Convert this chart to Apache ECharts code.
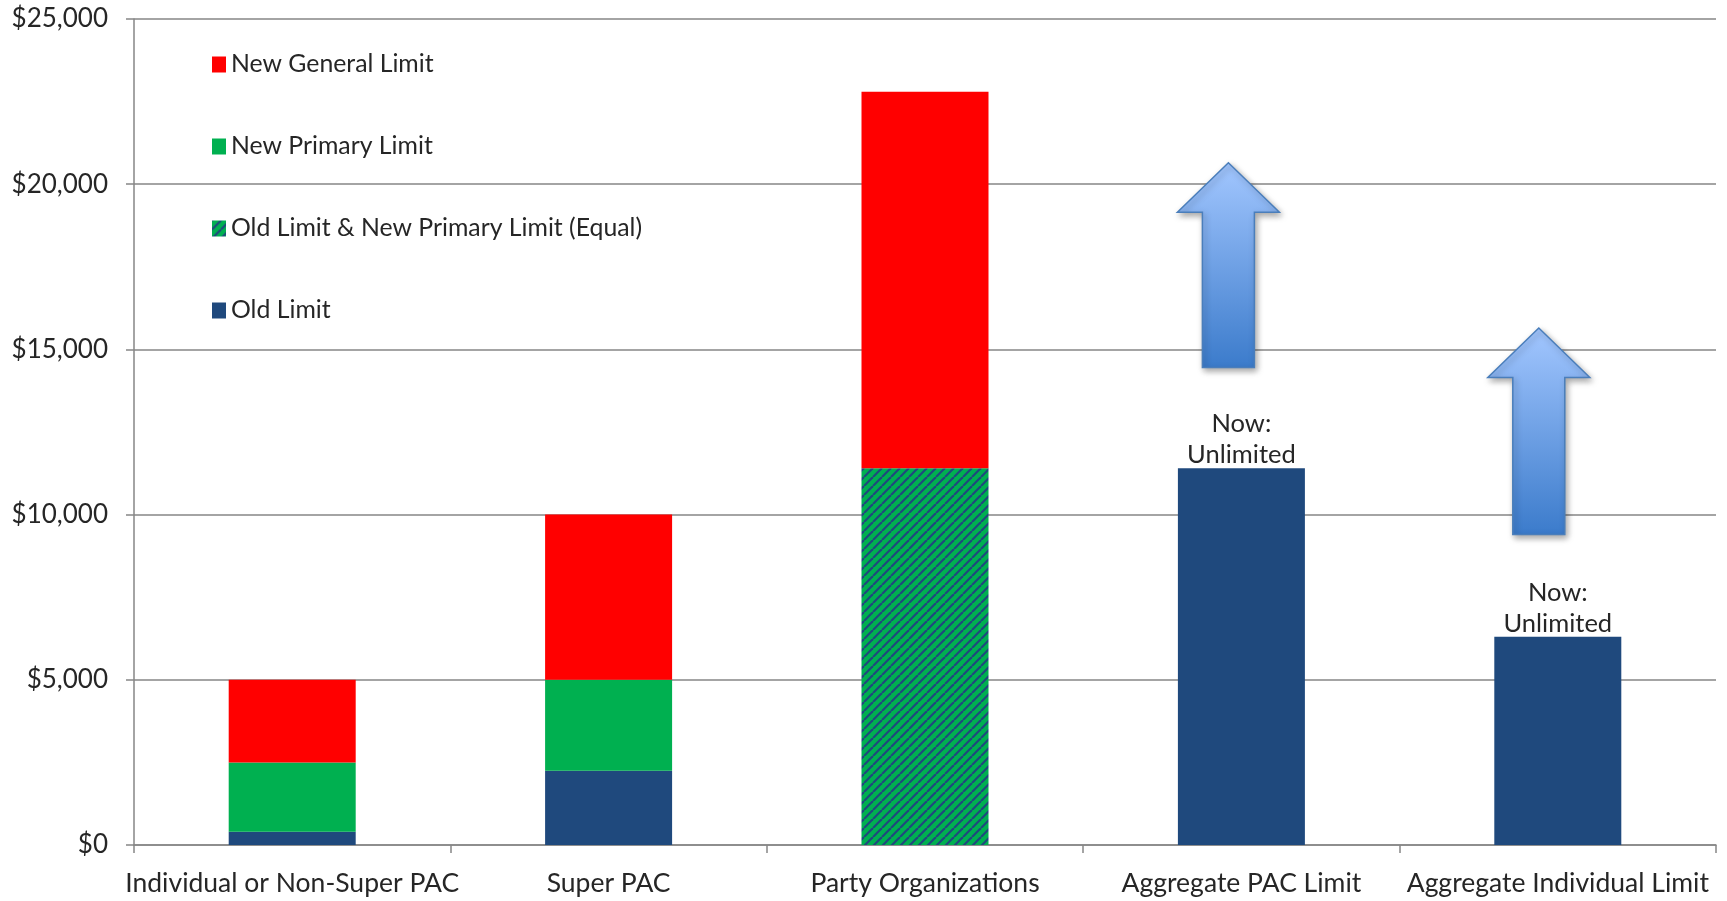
<!DOCTYPE html>
<html>
<head>
<meta charset="utf-8">
<script src="https://cdn.jsdelivr.net/npm/echarts@6/dist/echarts.min.js"></script>
<style>html,body{margin:0;padding:0;background:#fff}#main{width:1727px;height:901px}</style>
</head>
<body>
<div id="main"></div>
<script>
var categories = ['Individual or Non-Super PAC', 'Super PAC', 'Party Organizations', 'Aggregate PAC Limit', 'Aggregate Individual Limit'];
var oldLimit = [400, 2250, 0, 11400, 6300];
var oldEqualPrimary = [0, 0, 11400, 0, 0];
var newPrimary = [2100, 2750, 0, 0, 0];   // part above the old limit
var newGeneral = [2500, 5000, 11400, 0, 0]; // part above the primary limit
var barNotes = ['', '', '', 'Now:\nUnlimited', 'Now:\nUnlimited'];
// arrow: category, bottom, head base, tip
var arrows = [[3, 14450, 19150, 20650], [4, 9400, 14150, 15650]];
var yTicks = [0, 5000, 10000, 15000, 20000, 25000];

var FONT = 'Lato';
var main = echarts.init(document.getElementById('main'));

// green with navy diagonal stripes
function hatch() {
	var c = document.createElement('canvas');
	c.width = 9;
	c.height = 9;
	var ctx = c.getContext('2d');
	ctx.fillStyle = '#00B050';
	ctx.fillRect(0, 0, 9, 9);
	ctx.strokeStyle = '#1F497D';
	ctx.lineWidth = 2.2;
	for (var k = -1; k <= 1; k++) {
		ctx.beginPath();
		ctx.moveTo(k * 9, 9);
		ctx.lineTo(k * 9 + 9, 0);
		ctx.stroke();
	}
	return c;
}

var arrowShift = [-13, -19];
function renderArrow(params, api) {
	var base = api.coord([api.value(0), api.value(1)]);
	var neck = api.coord([api.value(0), api.value(2)]);
	var tip = api.coord([api.value(0), api.value(3)]);
	var cx = base[0] + arrowShift[params.dataIndex];
	var sw = 26, hw = 51;
	return {
		type: 'polygon',
		shape: {
			points: [[cx - sw, base[1]], [cx - sw, neck[1]], [cx - hw, neck[1]], [cx, tip[1]],
				[cx + hw, neck[1]], [cx + sw, neck[1]], [cx + sw, base[1]]]
		},
		style: {
			fill: new echarts.graphic.LinearGradient(0, 0, 0, 1, [
				{ offset: 0, color: '#A3C7FF' },
				{ offset: 1, color: '#3B7BCB' }
			]),
			stroke: '#4A7EBB',
			lineWidth: 1.5,
			shadowBlur: 6,
			shadowOffsetX: 2,
			shadowOffsetY: 3,
			shadowColor: 'rgba(0,0,0,0.35)'
		}
	};
}

var option = {
	animation: false,
	grid: { left: 134, right: 11, top: 19, bottom: 56 },
	legend: {
		orient: 'vertical',
		left: 207,
		top: 47,
		icon: 'rect',
		itemWidth: 14,
		itemHeight: 16,
		itemGap: 57,
		data: ['New General Limit', 'New Primary Limit', 'Old Limit & New Primary Limit (Equal)', 'Old Limit'],
		textStyle: { fontFamily: FONT, fontSize: 24.8, color: '#262626', lineHeight: 16 }
	},
	xAxis: {
		type: 'category',
		data: categories,
		axisLine: { lineStyle: { color: '#868686', width: 1.5 } },
		axisTick: { show: true, length: 8, lineStyle: { color: '#868686', width: 1.5 } },
		axisLabel: { fontFamily: FONT, fontSize: 26.5, color: '#262626', margin: 25, interval: 0 }
	},
	yAxis: {
		type: 'value',
		min: yTicks[0],
		max: yTicks[yTicks.length - 1],
		interval: yTicks[1] - yTicks[0],
		axisLine: { show: true, lineStyle: { color: '#868686', width: 1.5 } },
		axisTick: { show: true, length: 8, lineStyle: { color: '#868686', width: 1.5 } },
		splitLine: { lineStyle: { color: '#868686', width: 1.5 } },
		axisLabel: {
			fontFamily: FONT, fontSize: 26, color: '#262626', margin: 26,
			formatter: function (v) { return '$' + v.toLocaleString('en-US'); }
		}
	},
	series: [{
		name: 'Old Limit',
		type: 'bar',
		stack: 'total',
		barWidth: 127,
		itemStyle: { color: '#1F497D' },
		label: {
			show: true,
			position: 'top',
			distance: -2,
			fontFamily: FONT,
			fontSize: 25.5,
			lineHeight: 31,
			color: '#262626',
			formatter: function (p) { return barNotes[p.dataIndex]; }
		},
		data: oldLimit
	}, {
		name: 'Old Limit & New Primary Limit (Equal)',
		type: 'bar',
		stack: 'total',
		itemStyle: { color: { image: hatch(), repeat: 'repeat' } },
		data: oldEqualPrimary
	}, {
		name: 'New Primary Limit',
		type: 'bar',
		stack: 'total',
		itemStyle: { color: '#00B050' },
		data: newPrimary
	}, {
		name: 'New General Limit',
		type: 'bar',
		stack: 'total',
		itemStyle: { color: '#FF0000' },
		data: newGeneral
	}, {
		type: 'custom',
		renderItem: renderArrow,
		encode: { x: 0, y: [1, 2, 3] },
		z: 5,
		data: arrows
	}]
};
main.setOption(option);
</script>
</body>
</html>
